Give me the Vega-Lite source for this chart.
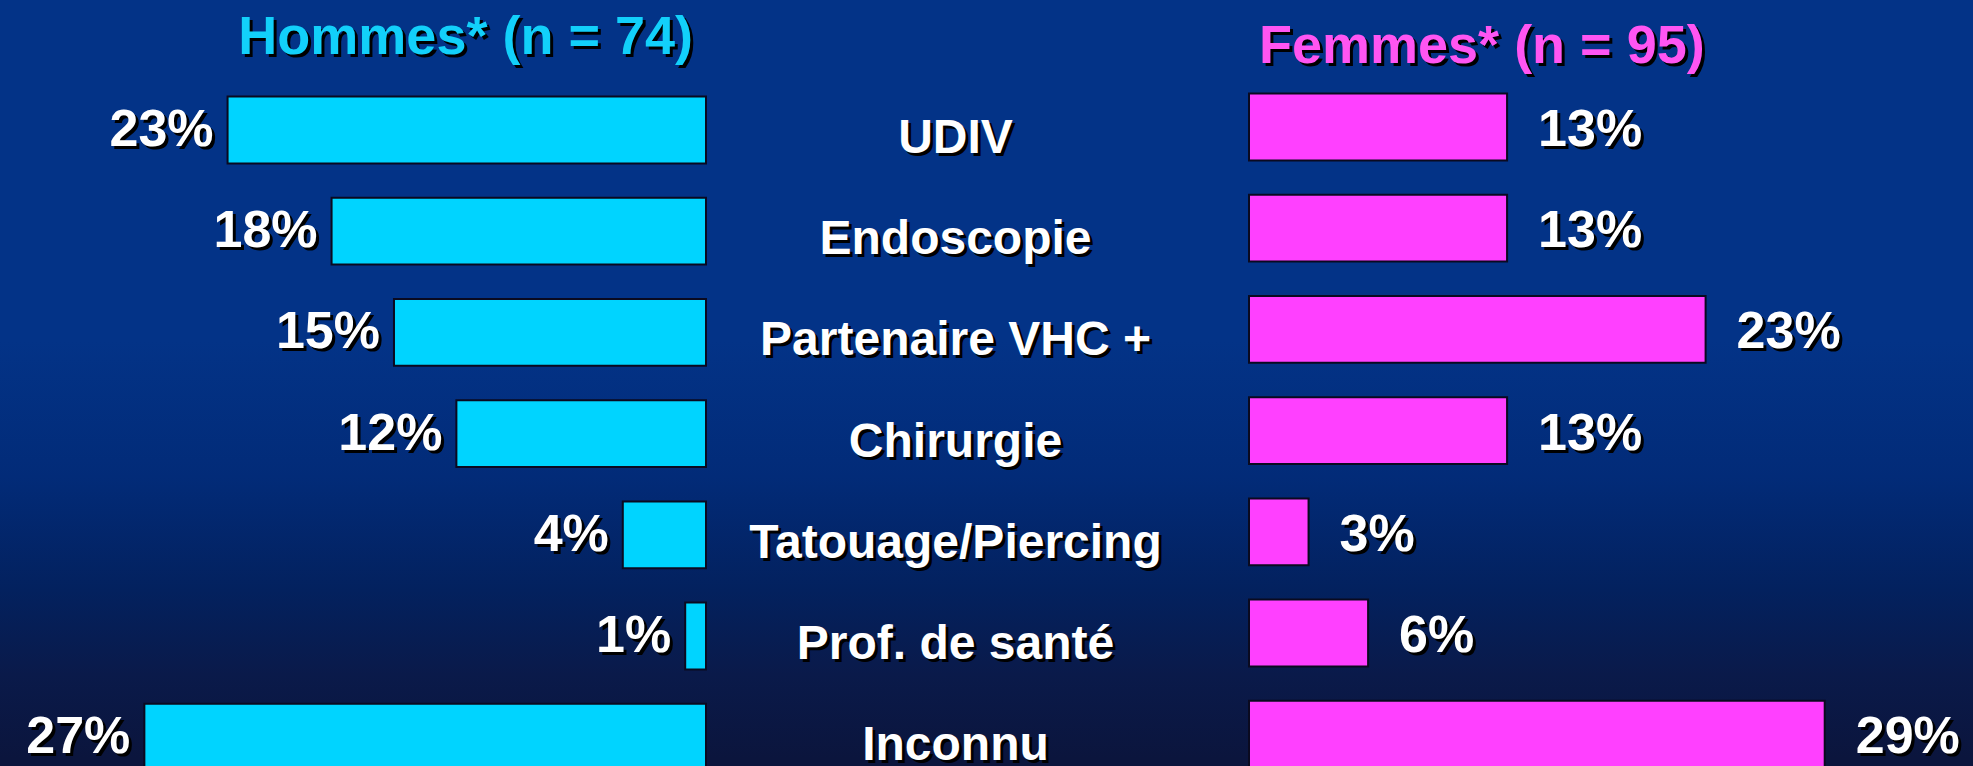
{
  "$schema": "https://vega.github.io/schema/vega-lite/v6.json",
  "width": 1973,
  "height": 766,
  "autosize": {"type": "fit", "contains": "padding"},
  "padding": 0,
  "background": "#0b153d",
  "config": {
    "view": {
      "stroke": null,
      "fill": {
        "gradient": "linear", "x1": 0, "y1": 0, "x2": 0, "y2": 1,
        "stops": [
          {"offset": 0, "color": "#033387"},
          {"offset": 0.45, "color": "#033387"},
          {"offset": 0.63, "color": "#022b78"},
          {"offset": 0.78, "color": "#03215e"},
          {"offset": 0.89, "color": "#0a1a4a"},
          {"offset": 1, "color": "#0b153d"}
        ]
      }
    },
    "text": {"font": "Liberation Sans, Arial, sans-serif", "fontWeight": "bold"}
  },
  "datasets": {
    "barres": [
      {"sexe": "Hommes", "cat": "UDIV", "pct": 23},
      {"sexe": "Hommes", "cat": "Endoscopie", "pct": 18},
      {"sexe": "Hommes", "cat": "Partenaire VHC +", "pct": 15},
      {"sexe": "Hommes", "cat": "Chirurgie", "pct": 12},
      {"sexe": "Hommes", "cat": "Tatouage/Piercing", "pct": 4},
      {"sexe": "Hommes", "cat": "Prof. de santé", "pct": 1},
      {"sexe": "Hommes", "cat": "Inconnu", "pct": 27},
      {"sexe": "Femmes", "cat": "UDIV", "pct": 13},
      {"sexe": "Femmes", "cat": "Endoscopie", "pct": 13},
      {"sexe": "Femmes", "cat": "Partenaire VHC +", "pct": 23},
      {"sexe": "Femmes", "cat": "Chirurgie", "pct": 13},
      {"sexe": "Femmes", "cat": "Tatouage/Piercing", "pct": 3},
      {"sexe": "Femmes", "cat": "Prof. de santé", "pct": 6},
      {"sexe": "Femmes", "cat": "Inconnu", "pct": 29}
    ],
    "titres": [
      {"sexe": "Hommes", "titre": "Hommes* (n = 74)"},
      {"sexe": "Femmes", "titre": "Femmes* (n = 95)"}
    ]
  },
  "encoding": {
    "y": {
      "field": "cat", "type": "nominal", "axis": null,
      "scale": {
        "domain": ["titre", "UDIV", "Endoscopie", "Partenaire VHC +", "Chirurgie", "Tatouage/Piercing", "Prof. de santé", "Inconnu"],
        "range": [-21.8, 787.8], "paddingInner": 0.34, "paddingOuter": 0.17
      }
    }
  },
  "layer": [
    {
      "data": {"name": "barres"},
      "transform": [
        {"filter": "datum.sexe === 'Hommes'"},
        {"calculate": "datum.pct + '%'", "as": "lib"}
      ],
      "encoding": {
        "x": {"field": "pct", "type": "quantitative", "axis": null, "scale": {"domain": [0, 33.94], "range": [706, 0]}}
      },
      "layer": [
        {"mark": {"type": "bar", "color": "#00D4FF", "stroke": "#0a0a20", "strokeWidth": 2}},
        {"mark": {"type": "text", "align": "right", "baseline": "middle", "fontSize": 52, "color": "#000000", "dx": -11, "dy": 3}, "encoding": {"text": {"field": "lib"}}},
        {"mark": {"type": "text", "align": "right", "baseline": "middle", "fontSize": 52, "color": "#ffffff", "dx": -14}, "encoding": {"text": {"field": "lib"}}}
      ]
    },
    {
      "data": {"name": "barres"},
      "transform": [
        {"filter": "datum.sexe === 'Femmes'"},
        {"calculate": "datum.pct + '%'", "as": "lib"}
      ],
      "encoding": {
        "x": {"field": "pct", "type": "quantitative", "axis": null, "scale": {"domain": [0, 36.47], "range": [1249, 1973]}}
      },
      "layer": [
        {"mark": {"type": "bar", "color": "#FF40FF", "stroke": "#0a0a20", "strokeWidth": 2, "yOffset": -3}},
        {"mark": {"type": "text", "align": "left", "baseline": "middle", "fontSize": 52, "color": "#000000", "dx": 34, "dy": 3}, "encoding": {"text": {"field": "lib"}}},
        {"mark": {"type": "text", "align": "left", "baseline": "middle", "fontSize": 52, "color": "#ffffff", "dx": 31}, "encoding": {"text": {"field": "lib"}}}
      ]
    },
    {
      "data": {"name": "barres"},
      "transform": [{"filter": "datum.sexe === 'Hommes'"}],
      "encoding": {"text": {"field": "cat"}},
      "layer": [
        {"mark": {"type": "text", "align": "center", "baseline": "middle", "fontSize": 48, "color": "#000000", "dx": -28, "dy": 12}},
        {"mark": {"type": "text", "align": "center", "baseline": "middle", "fontSize": 48, "color": "#ffffff", "dx": -31, "dy": 9}}
      ]
    },
    {
      "data": {"name": "titres"},
      "encoding": {
        "y": {"datum": "titre", "type": "nominal"},
        "text": {"field": "titre"}
      },
      "layer": [
        {"transform": [{"filter": "datum.sexe === 'Hommes'"}], "mark": {"type": "text", "align": "right", "baseline": "middle", "fontSize": 54, "color": "#000000", "dx": -290.5, "dy": 12}},
        {"transform": [{"filter": "datum.sexe === 'Hommes'"}], "mark": {"type": "text", "align": "right", "baseline": "middle", "fontSize": 54, "color": "#12D0FA", "dx": -293.5, "dy": 9}},
        {"transform": [{"filter": "datum.sexe === 'Femmes'"}], "mark": {"type": "text", "align": "left", "baseline": "middle", "fontSize": 54, "color": "#000000", "dx": 275.5, "dy": 21}},
        {"transform": [{"filter": "datum.sexe === 'Femmes'"}], "mark": {"type": "text", "align": "left", "baseline": "middle", "fontSize": 54, "color": "#FF55F2", "dx": 272.5, "dy": 18}}
      ]
    }
  ],
  "resolve": {"scale": {"x": "independent"}}
}
